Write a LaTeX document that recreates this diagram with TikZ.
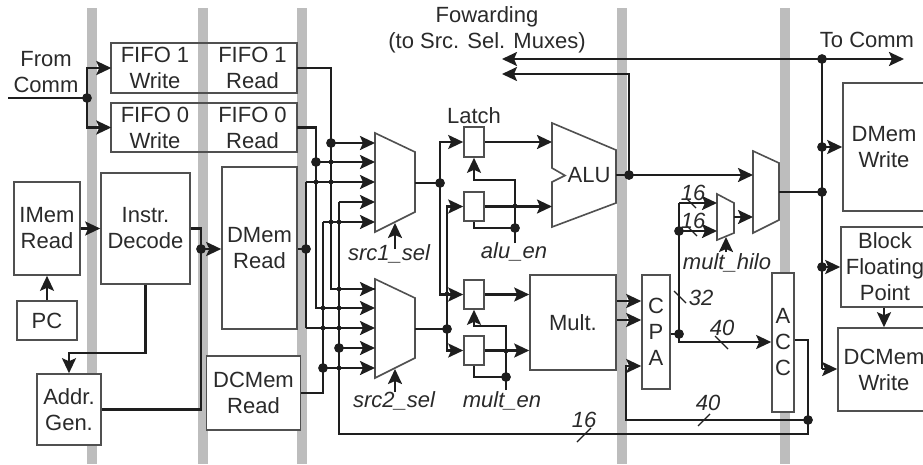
\documentclass[tikz,border=0pt]{standalone}
\usepackage{fontspec}
\setmainfont{Liberation Sans}
\usetikzlibrary{arrows.meta}
\definecolor{barc}{HTML}{BDBDBD}
\definecolor{linec}{HTML}{1E1E1E}
\definecolor{boxc}{HTML}{505050}
\definecolor{textc}{HTML}{2A2A2A}
\tikzset{
  bar/.style={fill=barc,draw=none},
  wire/.style={draw=linec,line width=2.3pt,line join=miter},
  thin wire/.style={draw=linec,line width=1.1pt},
  arr/.style={wire,-{Stealth[length=15pt,width=14pt,inset=3pt]}},
  bigdot/.style={circle,fill=linec,draw=none,inner sep=0pt,minimum size=9.5pt},
  smalldot/.style={circle,fill=linec,draw=none,inner sep=0pt,minimum size=4.5pt},
  blockbox/.style={draw=boxc,line width=1.6pt,fill=white,inner sep=0pt,align=center,text=textc,font=\fontsize{22}{26}\selectfont},
  txt/.style={inner sep=0pt,align=center,text=textc,font=\fontsize{22}{26}\selectfont},
  itxt/.style={inner sep=0pt,align=center,text=textc,font=\fontsize{22}{26}\selectfont\itshape},
  muxshape/.style={draw=boxc,line width=1.6pt,fill=white,line join=miter},
}
\begin{document}
\begin{tikzpicture}[x=1pt,y=-1pt]
\useasboundingbox (0,0) rectangle (923,464);
\clip (0,0) rectangle (923,464);
\fill[white] (0,0) rectangle (923,464);
% pipeline bars
\foreach \xa/\xb in {87/97,198/208,297/307,617/627,780/790}
  \path[bar] (\xa,8) rectangle (\xb,464);

% ---- wires (under the blocks)
% junctions
\foreach \n/\x/\y in {jc/87/98, jd/201/249, jr/306/249, ja/331/143, jb/316/162, jf/339/348, jg/323/368,
  jm1/440/183, jm2/447/329, jalu/515/228, jmul/506/377, jo/629/175, jt/822/59, jw/822/147, jm/822/192, jbf/822/267,
  jacc/808/420, jcpa/679/334, jh/679/231}
  \node[bigdot] (\n) at (\x,\y) {};
\foreach \n/\x/\y in {s1/316/182,s2/331/162,s3/331/182,s4/331/222,s5/339/222,s6/339/289,s7/323/308,s8/339/308,
  s9/323/328,s10/339/328,s11/339/368,s12/515/206,s13/506/351,s14/447/294}
  \node[smalldot] (\n) at (\x,\y) {};

% free ends and ports
\coordinate (commin) at (8,98);
\coordinate (fw1) at (502,59);
\coordinate (fw2) at (502,74);
\coordinate (tocomm) at (904,59);
\foreach \n/\y in {a/143,b/162,c/182,d/202,e/222}
  \coordinate (m1\n) at (375,\y);
\foreach \n/\y in {a/289,b/308,c/328,d/348,e/368}
  \coordinate (m2\n) at (375,\y);

% blocks
\node[blockbox,minimum width=66pt,minimum height=93pt] (imem) at (47,228.5) {IMem\\Read};
\node[blockbox,minimum width=60pt,minimum height=39pt] (pc) at (47,320.5) {PC};
\node[blockbox,minimum width=89pt,minimum height=111pt] (decode) at (145.5,228.5) {Instr.\\Decode};
\node[blockbox,minimum width=64pt,minimum height=71pt] (addr) at (69,409.5) {Addr.\\Gen.};
\node[blockbox,minimum width=75pt,minimum height=162pt] (dmemr) at (259.5,248) {DMem\\Read};
\node[blockbox,minimum width=94pt,minimum height=74pt] (dcmemr) at (253.5,393) {DCMem\\Read};
\node[blockbox,minimum width=86pt,minimum height=95pt] (mult) at (573,322.5) {Mult.};
\node[blockbox,minimum width=28pt,minimum height=114pt] (cpa) at (656,332) {C\\P\\A};
\node[blockbox,minimum width=22pt,minimum height=139pt] (acc) at (783,342.5) {A\\C\\C};
\node[blockbox,minimum width=82pt,minimum height=128pt] (dmemw) at (884,147) {DMem\\Write};
\node[blockbox,minimum width=88pt,minimum height=80pt] (bfp) at (885,267) {Block\\Floating\\Point};
\node[blockbox,minimum width=92pt,minimum height=83pt] (dcmemw) at (884,369.5) {DCMem\\Write};
% FIFO strips: one outline each, with the pipeline bar showing through
\draw[draw=boxc,line width=1.6pt] (110.7,43) rectangle (297,93);
\draw[draw=boxc,line width=1.6pt] (110.7,103) rectangle (297,152);
\node[txt,minimum width=87pt,minimum height=50pt] (f1w) at (155,68) {FIFO 1\\Write};
\node[txt,minimum width=89pt,minimum height=50pt] (f1r) at (252.5,68) {FIFO 1\\Read};
\node[txt,minimum width=87pt,minimum height=49pt] (f0w) at (155,127.5) {FIFO 0\\Write};
\node[txt,minimum width=89pt,minimum height=49pt] (f0r) at (252.5,127.5) {FIFO 0\\Read};
% latches
\node[blockbox,minimum width=20pt,minimum height=30pt] (l1) at (474,142) {};
\node[blockbox,minimum width=20pt,minimum height=29pt] (l2) at (474,206.5) {};
\node[blockbox,minimum width=20pt,minimum height=29pt] (l3) at (474,294.5) {};
\node[blockbox,minimum width=20pt,minimum height=29pt] (l4) at (474,350.5) {};

% muxes and ALU
\path[muxshape] (375,133) -- (415,152) -- (415,212) -- (375,232) -- cycle;
\path[muxshape] (375,279) -- (415,298) -- (415,358) -- (375,378) -- cycle;
\path[muxshape] (552,123) -- (616,150) -- (616,203) -- (552,227) -- (552,182) -- (565,175.5) -- (552,168) -- cycle;
\path[muxshape] (717,194) -- (734,203) -- (734,233) -- (717,240) -- cycle;
\path[muxshape] (753,151) -- (779,163) -- (779,220) -- (753,233) -- cycle;
\coordinate (m1o) at (415,183);
\coordinate (m2o) at (415,329);
\coordinate (aluo) at (616,175);
\coordinate (smo) at (734,217);
\coordinate (bmo) at (779,192);
\node[txt] (alut) at (589,175.5) {ALU};

% front end
\draw[wire] (commin) -- (jc.center);
\draw[arr] (jc.center) |- (f1w.west);
\draw[arr] (jc.center) |- (f0w.west);
\draw[arr] (imem.east) -- (decode.west);
\draw[arr] (pc.north) -- (imem.south);
\draw[arr] (decode.south) |- (80,353) -| (addr.north);
\draw[wire] (decode.east) -- (201,228.5) -- (jd.center) |- (addr.east);
\draw[arr] (jd.center) -- (dmemr.west |- jd);

% bus to source muxes
\draw[wire] (dmemr.east |- jr) -- (jr.center);
\draw[wire] (f1r.east) -| (ja.center);
\draw[arr] (ja.center) -- (m1a);
\draw[wire] (ja.center) |- (m2a);
\draw[arr] (331,289) -- (m2a);
\draw[wire] (f0r.east) -| (jb.center);
\draw[arr] (jb.center) -- (m1b);
\draw[wire] (jb.center) |- (340,308);
\draw[arr] (340,308) -- (m2b);
\draw[arr] (306,182) -- (m1c);
\draw[wire] (306,182) -- (jr.center) -- (306,328);
\draw[arr] (306,328) -- (m2c);
\draw[arr] (339,202) -- (m1d);
\draw[wire] (339,202) -- (jf.center);
\draw[arr] (jf.center) -- (m2d);
\draw[arr] (323,222) -- (m1e);
\draw[wire] (323,222) -- (jg.center);
\draw[arr] (jg.center) -- (m2e);
\draw[wire] (dcmemr.east) -| (jg.center);
\draw[wire] (jf.center) -- (339,434) -- (808,434) -- (jacc.center);

% mux outputs to latches
\draw[wire] (m1o) -- (jm1.center);
\draw[arr] (jm1.center) |- (l1.west);
\draw[arr] (jm1.center) |- (l3.west);
\draw[wire] (m2o) -- (jm2.center);
\draw[arr] (jm2.center) |- (l2.west);
\draw[arr] (jm2.center) |- (l4.west);
% latches to units
\draw[arr] (l1.east) -- (552,142);
\draw[arr] (l2.east) -- (552,206.5);
\draw[arr] (l3.east) -- (mult.west |- l3);
\draw[arr] (l4.east) -- (mult.west |- l4);
% enables
\coordinate (aluen) at (515,243);
\coordinate (multen) at (506,390);
\draw[arr] (aluen) -- (515,180) -| (l1.south);
\draw[wire] (jalu.center) -| (l2.south);
\draw[arr] (multen) -- (506,326) -| (l3.south);
\draw[wire] (jmul.center) -| (l4.south);
% select arrows
\coordinate (s1t) at (395,249);
\coordinate (s1h) at (395,223);
\coordinate (s2t) at (395,392);
\coordinate (s2h) at (395,369);
\coordinate (s3t) at (726,252);
\coordinate (s3h) at (726,237);
\draw[arr] (s1t) -- (s1h);
\draw[arr] (s2t) -- (s2h);
\draw[arr] (s3t) -- (s3h);

% ALU output / forwarding
\draw[wire] (aluo) -- (jo.center);
\draw[arr] (jo.center) -- (753,175);
\draw[arr] (jo.center) |- (fw2);
\draw[arr] (jt.center) -- (fw1);
\draw[arr] (jt.center) -- (tocomm);
% multiplier
\draw[arr] (mult.east |- 0,301) -- (cpa.west |- 0,301);
\draw[arr] (mult.east |- 0,320) -- (cpa.west |- 0,320);
\draw[wire] (cpa.east |- jcpa) -- (jcpa.center);
\draw[arr] (jcpa.center) |- (acc.west |- 0,342);
\draw[wire] (jcpa.center) -- (jh.center) -- (679,203);
\draw[arr] (679,203) -- (717,203);
\draw[arr] (jh.center) -- (717,231);
\draw[arr] (smo) -- (753,217);
\draw[wire] (bmo) -- (jm.center);
% ACC feedback
\draw[wire] (acc.east |- 0,340) -- (808,340) -- (jacc.center);
\draw[arr] (jacc.center) -- (626,420) -- (626,366) -- (cpa.west |- 0,366);
% write side
\draw[wire] (jt.center) -- (822,369);
\draw[arr] (822,369) -- (dcmemw.west |- 0,369);
\draw[arr] (jw.center) -- (dmemw.west |- jw);
\draw[arr] (jbf.center) -- (bfp.west |- jbf);
\draw[arr] (bfp.south -| 884,0) -- (dcmemw.north -| 884,0);

% width slashes
\coordinate (sa1) at (577,442); \coordinate (sa2) at (591,428);
\coordinate (sb1) at (674,291); \coordinate (sb2) at (686,303);
\coordinate (sc1) at (715,336); \coordinate (sc2) at (728,349);
\coordinate (sd1) at (698,426); \coordinate (sd2) at (710,414);
\coordinate (se1) at (687,199); \coordinate (se2) at (696,208);
\coordinate (sf1) at (687,226); \coordinate (sf2) at (697,236);
\draw[thin wire] (sa1) -- (sa2);
\draw[thin wire] (sb1) -- (sb2);
\draw[thin wire] (sc1) -- (sc2);
\draw[thin wire] (sd1) -- (sd2);
\draw[thin wire] (se1) -- (se2);
\draw[thin wire] (sf1) -- (sf2);

% labels
\node[txt] (lfrom) at (46,72.5) {From\\Comm};
\node[txt] (lfw) at (487,29.5) {Fowarding\\(to Src. Sel. Muxes)};
\node[txt] (lto) at (867,40) {To Comm};
\node[txt] (llatch) at (474,116) {Latch};
\node[itxt] (ls1) at (389,254) {src1\_sel};
\node[itxt] (ls2) at (394,401) {src2\_sel};
\node[itxt] (lalu) at (514,252) {alu\_en};
\node[itxt] (lmul) at (502,401) {mult\_en};
\node[itxt] (lhilo) at (727,263) {mult\_hilo};
\node[itxt] (n16a) at (584,420) {16};
\node[itxt] (n32) at (701,298) {32};
\node[itxt] (n40a) at (722,328) {40};
\node[itxt] (n40b) at (708,403) {40};
\node[itxt] (n16b) at (693,193) {16};
\node[itxt] (n16c) at (693,221) {16};

% junctions on top
\foreach \n in {jc,jd,jr,ja,jb,jf,jg,jm1,jm2,jalu,jmul,jo,jt,jw,jm,jbf,jacc,jcpa,jh}
  \fill[linec] (\n) circle (4.7pt);
\foreach \n in {s1,s2,s3,s4,s5,s6,s7,s8,s9,s10,s11,s12,s13,s14}
  \fill[linec] (\n) circle (2.3pt);
\end{tikzpicture}
\end{document}
